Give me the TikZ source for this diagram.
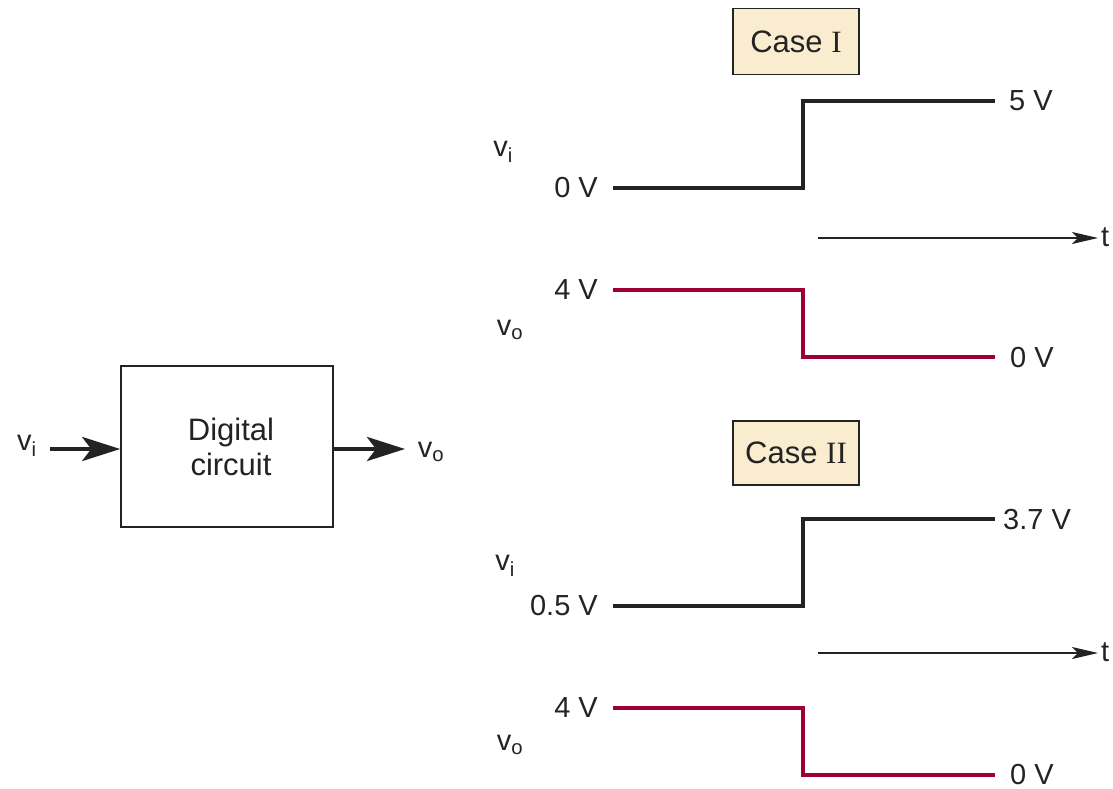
\documentclass[tikz,border=0pt]{standalone}
\usepackage{fontspec}
\setmainfont{Liberation Sans}
\newfontfamily\serifI{Liberation Serif}
\usetikzlibrary{arrows.meta}
\definecolor{wavered}{RGB}{158,0,52}
\definecolor{casefill}{RGB}{250,237,207}
\definecolor{ink}{RGB}{35,35,35}
\begin{document}
\begin{tikzpicture}[x=1pt,y=-1pt,
  lbl/.style={inner sep=0pt, font=\fontsize{29}{34}\selectfont, text=ink},
  casebox/.style={draw=ink, line width=1.6pt, fill=casefill, minimum width=126pt,
    minimum height=66pt, inner sep=0pt, font=\fontsize{31}{36}\selectfont, text=ink},
  blockbox/.style={draw=ink, line width=1.6pt, minimum width=212pt, minimum height=161pt,
    align=center, inner sep=0pt, font=\fontsize{31}{35}\selectfont, text=ink},
  bigarrow/.style={draw=ink, line width=4.5pt, -{Stealth[length=38pt,width=24pt,inset=9pt]}},
  taxis/.style={draw=ink, line width=1.6pt, -{Stealth[length=26pt,width=12pt,inset=6pt]}},
  wavehi/.style={draw=ink, line width=4.5pt, line join=miter},
  wavelo/.style={draw=wavered, line width=4.5pt, line join=miter}
]
\useasboundingbox (0,0) rectangle (1113,789);

% ---- block diagram ----
\node[blockbox] (dc) at (227,446.5) {\hspace*{8pt}Digital\\\hspace*{8pt}circuit};
\coordinate (vin) at (50,449);
\coordinate (vout) at (405,449);
\draw[bigarrow] (vin) -- (vin -| dc.west);
\draw[bigarrow] (vin -| dc.east) -- (vout);
\node[lbl] (lvi) at (27,446) {v\textsubscript{i}};
\node[lbl] (lvo) at (431,452) {v\textsubscript{o}};

% ---- Case I ----
\node[casebox] (case1) at (796,41.5) {Case {\serifI I}};
\draw[wavehi] (613,188) -- (803,188) -- (803,101) -- (995,101);
\node[lbl, anchor=east] (c1vlo) at (598,188) {0 V};
\node[lbl, anchor=west] (c1vhi) at (1009,101) {5 V};
\node[lbl] (c1vi) at (503,152) {v\textsubscript{i}};

\coordinate (t1a) at (818,238);
\coordinate (t1b) at (1098,238);
\draw[taxis] (t1a) -- (t1b);
\node[lbl, anchor=west] (t1) at (1101,237) {t};

\draw[wavelo] (613,290) -- (803,290) -- (803,357) -- (995,357);
\node[lbl, anchor=east] (c1ohi) at (598,290) {4 V};
\node[lbl, anchor=west] (c1olo) at (1010,358) {0 V};
\node[lbl] (c1vo) at (510,330) {v\textsubscript{o}};

% ---- Case II ----
\node[casebox, minimum height=64pt] (case2) at (796,453) {Case {\serifI II}};
\draw[wavehi] (613,606) -- (803,606) -- (803,519) -- (995,519);
\node[lbl, anchor=east] (c2vlo) at (598,606) {0.5 V};
\node[lbl, anchor=west] (c2vhi) at (1003,520) {3.7 V};
\node[lbl] (c2vi) at (505,566) {v\textsubscript{i}};

\coordinate (t2a) at (818,653);
\coordinate (t2b) at (1098,653);
\draw[taxis] (t2a) -- (t2b);
\node[lbl, anchor=west] (t2) at (1101,652) {t};

\draw[wavelo] (613,708) -- (803,708) -- (803,775) -- (995,775);
\node[lbl, anchor=east] (c2ohi) at (598,708) {4 V};
\node[lbl, anchor=west] (c2olo) at (1010,775) {0 V};
\node[lbl] (c2vo) at (510,745) {v\textsubscript{o}};
\end{tikzpicture}
\end{document}
